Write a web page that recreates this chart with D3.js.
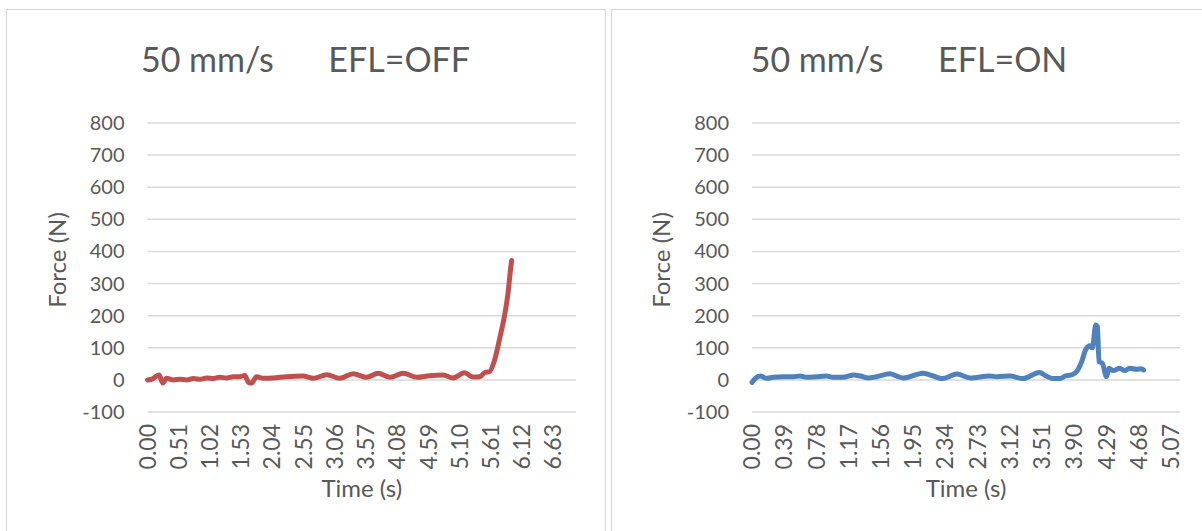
<!DOCTYPE html>
<html>
<head>
    <script src="https://d3js.org/d3.v7.min.js"></script>
    <style>
        body { margin: 0; background: #fff; }
        text { font-family: Lato, "Open Sans", sans-serif; fill: #595959; }
    </style>
</head>
<body>
    <script>
        // EFL=OFF run (red)
        const offTime = [0.00, 0.07, 0.15, 0.19, 0.25, 0.31, 0.42, 0.53, 0.64, 0.75, 0.86, 0.97, 1.07, 1.18, 1.29, 1.40,
            1.51, 1.59, 1.65, 1.70, 1.78, 1.89, 2.05, 2.27, 2.54, 2.71, 2.93, 3.14, 3.36, 3.58, 3.77, 3.96,
            4.18, 4.40, 4.61, 4.83, 4.99, 5.18, 5.32, 5.43, 5.51, 5.59, 5.67, 5.76, 5.84, 5.89, 5.93, 5.95];
        const offForce = [0, 2, 12, 15, -10, 5, 0, 2, 0, 4, 2, 6, 4, 8, 6, 10,
            10, 14, -8, -10, 10, 5, 6, 10, 12, 5, 16, 5, 19, 8, 21, 8,
            21, 8, 13, 15, 6, 22, 9, 10, 23, 26, 62, 135, 208, 271, 343, 372];

        // EFL=ON run (blue)
        const onTime = [0.00, 0.04, 0.10, 0.18, 0.26, 0.38, 0.50, 0.58, 0.66, 0.78, 0.90, 0.98, 1.10, 1.23, 1.31, 1.41,
            1.51, 1.67, 1.75, 1.83, 2.07, 2.31, 2.48, 2.64, 2.88, 2.96, 3.12, 3.28, 3.48, 3.56, 3.64, 3.73,
            3.79, 3.87, 3.93, 3.99, 4.04, 4.09, 4.12, 4.16, 4.18, 4.20, 4.24, 4.29, 4.32, 4.37, 4.45, 4.51,
            4.57, 4.65, 4.71, 4.74];
        const onForce = [-8, 5, 12, 5, 8, 10, 10, 12, 8, 10, 12, 8, 8, 15, 12, 6,
            10, 19, 12, 6, 21, 4, 18, 6, 12, 10, 12, 4, 23, 12, 4, 4,
            12, 16, 26, 57, 95, 106, 100, 171, 166, 57, 52, 10, 36, 29, 36, 29,
            36, 33, 35, 31];

        const offTicks = [0.00, 0.51, 1.02, 1.53, 2.04, 2.55, 3.06, 3.57, 4.08, 4.59, 5.10, 5.61, 6.12, 6.63];
        const onTicks = [0.00, 0.39, 0.78, 1.17, 1.56, 1.95, 2.34, 2.73, 3.12, 3.51, 3.90, 4.29, 4.68, 5.07];
        const yTicks = [-100, 0, 100, 200, 300, 400, 500, 600, 700, 800];

        const W = 1202, H = 531;
        const svg = d3.select('body').append('svg')
            .attr('width', W)
            .attr('height', H);

        function drawPanel(p) {
            const g = svg.append('g');

            // chart frame
            g.append('rect')
                .attr('x', p.frameX)
                .attr('y', 9.5)
                .attr('width', p.frameW)
                .attr('height', 540)
                .attr('fill', '#fff')
                .attr('stroke', '#d9d9d9')
                .attr('stroke-width', 1.2);

            const x = d3.scaleLinear().domain([0, p.tMax]).range([p.left, p.right]);
            const y = d3.scaleLinear().domain([-100, 800]).range([412, 123]);

            // gridlines
            g.append('g')
                .selectAll('line')
                .data(yTicks)
                .join('line')
                .attr('x1', p.left)
                .attr('x2', p.right)
                .attr('y1', d => y(d))
                .attr('y2', d => y(d))
                .attr('stroke', '#d9d9d9')
                .attr('stroke-width', 1.5);

            // y tick labels
            g.append('g')
                .selectAll('text')
                .data(yTicks)
                .join('text')
                .attr('x', p.left - 23)
                .attr('y', d => y(d))
                .attr('dy', '0.35em')
                .attr('text-anchor', 'end')
                .style('font-size', '20px')
                .text(d => d);

            // x tick labels (rotated)
            g.append('g')
                .selectAll('text')
                .data(p.ticks)
                .join('text')
                .attr('transform', d => `translate(${x(d)},424) rotate(-90)`)
                .attr('dy', '0.35em')
                .attr('text-anchor', 'end')
                .style('font-size', '23px')
                .text(d => d.toFixed(2));

            // series line
            const pts = p.time.map((t, i) => ({ t: t, f: p.force[i] }));
            const line = d3.line()
                .x(d => x(d.t))
                .y(d => y(d.f))
                .curve(d3.curveMonotoneX);

            g.append('path')
                .datum(pts)
                .attr('fill', 'none')
                .attr('stroke', p.color)
                .attr('stroke-width', 5)
                .attr('stroke-linejoin', 'round')
                .attr('stroke-linecap', 'round')
                .attr('d', line);

            // title
            const title = g.append('text')
                .attr('x', p.titleX)
                .attr('y', 72)
                .attr('text-anchor', 'middle')
                .style('font-size', '34px');
            title.append('tspan').text('50 mm/s');
            title.append('tspan').attr('dx', 55).text(p.title);

            // axis titles
            g.append('text')
                .attr('x', (p.left + p.right) / 2)
                .attr('y', 497)
                .attr('text-anchor', 'middle')
                .style('font-size', '24px')
                .text('Time (s)');

            g.append('text')
                .attr('transform', `translate(${p.yTitleX},260) rotate(-90)`)
                .attr('dy', '0.35em')
                .attr('text-anchor', 'middle')
                .style('font-size', '24px')
                .text('Force (N)');
        }

        drawPanel({
            frameX: 6.5, frameW: 599, left: 147.5, right: 576, tMax: 7.0,
            ticks: offTicks, time: offTime, force: offForce, color: '#c0504d',
            title: 'EFL=OFF', titleX: 305.5, yTitleX: 58
        });

        drawPanel({
            frameX: 611.5, frameW: 600, left: 752, right: 1180, tMax: 5.18,
            ticks: onTicks, time: onTime, force: onForce, color: '#4f81bd',
            title: 'EFL=ON', titleX: 909, yTitleX: 662
        });
    </script>
</body>
</html>
